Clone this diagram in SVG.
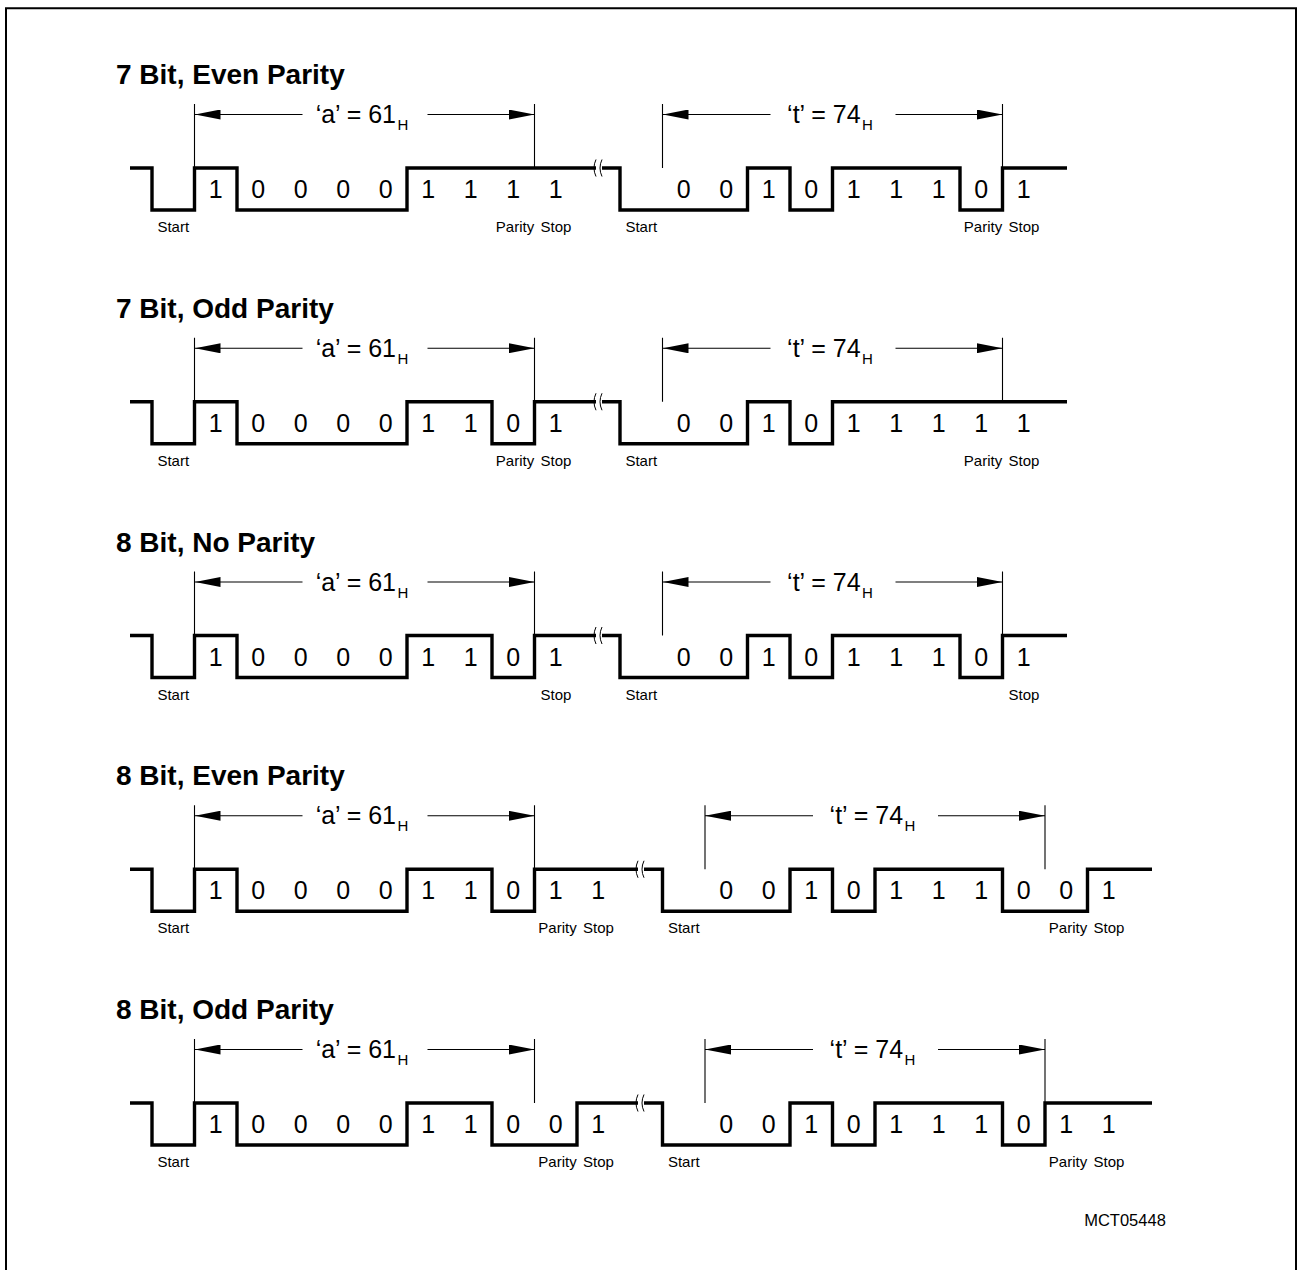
<svg xmlns="http://www.w3.org/2000/svg" width="1297" height="1270" viewBox="0 0 1297 1270">
<style>
.title{font-family:"Liberation Sans",Arial,sans-serif;font-weight:bold;font-size:28px;fill:#000}
.dig{font-family:"Liberation Sans",Arial,sans-serif;font-size:25px;fill:#000;text-anchor:middle}
.dim{font-family:"Liberation Sans",Arial,sans-serif;font-size:25px;fill:#000;text-anchor:middle}
.sub{font-size:15px}
.lbl{font-family:"Liberation Sans",Arial,sans-serif;font-size:15px;fill:#000;text-anchor:middle}
.wave{fill:none;stroke:#000;stroke-width:3.4;stroke-linejoin:miter}
.thin{fill:none;stroke:#000;stroke-width:1.1}
.arr{fill:none;stroke:#000;stroke-width:1.1;marker-start:url(#ah)}
.arrR{fill:none;stroke:#000;stroke-width:1.1;marker-end:url(#ah)}
.brk{fill:none;stroke:#000;stroke-width:1}
</style>
<defs>
<marker id="ah" viewBox="0 0 26 10" refX="26" refY="5" markerWidth="26" markerHeight="10" markerUnits="userSpaceOnUse" orient="auto-start-reverse">
<path d="M0,0 L26,5 L0,10 Z" fill="#000"/>
</marker>
<g id="brkmark">
<rect x="-3" y="-3" width="6" height="6" fill="#fff"/>
<path class="brk" d="M-3,-8.5 q-4,8.5 0,17 M3,-8.5 q-4,8.5 0,17"/>
</g>
</defs>
<rect width="1297" height="1270" fill="#fff"/>
<path d="M6,1275 V8.3 H1296 V1275" fill="none" stroke="#000" stroke-width="2"/>

<g id="connectors">
<g transform="translate(0,0)">
<path class="thin" d="M194.5,104 V168 M534.5,104 V168 M662.5,104 V168 M1002.5,104 V168"/>
<line class="arr" x1="194.5" y1="114.5" x2="302.5" y2="114.5"/>
<line class="arrR" x1="427.5" y1="114.5" x2="534.5" y2="114.5"/>
<line class="arr" x1="662.5" y1="114.5" x2="770.5" y2="114.5"/>
<line class="arrR" x1="895.5" y1="114.5" x2="1002.5" y2="114.5"/>
</g>
<g transform="translate(0,233.75)">
<path class="thin" d="M194.5,104 V168 M534.5,104 V168 M662.5,104 V168 M1002.5,104 V168"/>
<line class="arr" x1="194.5" y1="114.5" x2="302.5" y2="114.5"/>
<line class="arrR" x1="427.5" y1="114.5" x2="534.5" y2="114.5"/>
<line class="arr" x1="662.5" y1="114.5" x2="770.5" y2="114.5"/>
<line class="arrR" x1="895.5" y1="114.5" x2="1002.5" y2="114.5"/>
</g>
<g transform="translate(0,467.5)">
<path class="thin" d="M194.5,104 V168 M534.5,104 V168 M662.5,104 V168 M1002.5,104 V168"/>
<line class="arr" x1="194.5" y1="114.5" x2="302.5" y2="114.5"/>
<line class="arrR" x1="427.5" y1="114.5" x2="534.5" y2="114.5"/>
<line class="arr" x1="662.5" y1="114.5" x2="770.5" y2="114.5"/>
<line class="arrR" x1="895.5" y1="114.5" x2="1002.5" y2="114.5"/>
</g>
<g transform="translate(0,701.25)">
<path class="thin" d="M194.5,104 V168 M534.5,104 V168 M705,104 V168 M1045,104 V168"/>
<line class="arr" x1="194.5" y1="114.5" x2="302.5" y2="114.5"/>
<line class="arrR" x1="427.5" y1="114.5" x2="534.5" y2="114.5"/>
<line class="arr" x1="705" y1="114.5" x2="813" y2="114.5"/>
<line class="arrR" x1="938" y1="114.5" x2="1045" y2="114.5"/>
</g>
<g transform="translate(0,935)">
<path class="thin" d="M194.5,104 V168 M534.5,104 V168 M705,104 V168 M1045,104 V168"/>
<line class="arr" x1="194.5" y1="114.5" x2="302.5" y2="114.5"/>
<line class="arrR" x1="427.5" y1="114.5" x2="534.5" y2="114.5"/>
<line class="arr" x1="705" y1="114.5" x2="813" y2="114.5"/>
<line class="arrR" x1="938" y1="114.5" x2="1045" y2="114.5"/>
</g>
</g>

<g id="row1" transform="translate(0,0)">
<text class="title" x="116" y="84">7 Bit, Even Parity</text>
<text class="dim" x="362" y="123">‘a’ = 61<tspan class="sub" dx="1.5" dy="7">H</tspan></text>
<text class="dim" x="830" y="123">‘t’ = 74<tspan class="sub" dx="1.5" dy="7">H</tspan></text>
<path class="wave" d="M130,168 H152 V210 H194.5 V168 H237 V210 H407 V168 H620 V210 H747.5 V168 H790 V210 H832.5 V168 H960 V210 H1002.5 V168 H1067"/>
<use href="#brkmark" x="599" y="168"/>
<text class="dig" x="215.75" y="198">1</text><text class="dig" x="258.25" y="198">0</text><text class="dig" x="300.75" y="198">0</text><text class="dig" x="343.25" y="198">0</text><text class="dig" x="385.75" y="198">0</text><text class="dig" x="428.25" y="198">1</text><text class="dig" x="470.75" y="198">1</text><text class="dig" x="513.25" y="198">1</text><text class="dig" x="555.75" y="198">1</text>
<text class="dig" x="683.75" y="198">0</text><text class="dig" x="726.25" y="198">0</text><text class="dig" x="768.75" y="198">1</text><text class="dig" x="811.25" y="198">0</text><text class="dig" x="853.75" y="198">1</text><text class="dig" x="896.25" y="198">1</text><text class="dig" x="938.75" y="198">1</text><text class="dig" x="981.25" y="198">0</text><text class="dig" x="1023.75" y="198">1</text>
<text class="lbl" x="173.25" y="232">Start</text><text class="lbl" x="515" y="232">Parity</text><text class="lbl" x="556" y="232">Stop</text>
<text class="lbl" x="641.25" y="232">Start</text><text class="lbl" x="983" y="232">Parity</text><text class="lbl" x="1024" y="232">Stop</text>
</g>

<g id="row2" transform="translate(0,233.75)">
<text class="title" x="116" y="84">7 Bit, Odd Parity</text>
<text class="dim" x="362" y="123">‘a’ = 61<tspan class="sub" dx="1.5" dy="7">H</tspan></text>
<text class="dim" x="830" y="123">‘t’ = 74<tspan class="sub" dx="1.5" dy="7">H</tspan></text>
<path class="wave" d="M130,168 H152 V210 H194.5 V168 H237 V210 H407 V168 H492 V210 H534.5 V168 H620 V210 H747.5 V168 H790 V210 H832.5 V168 H1067"/>
<use href="#brkmark" x="599" y="168"/>
<text class="dig" x="215.75" y="198">1</text><text class="dig" x="258.25" y="198">0</text><text class="dig" x="300.75" y="198">0</text><text class="dig" x="343.25" y="198">0</text><text class="dig" x="385.75" y="198">0</text><text class="dig" x="428.25" y="198">1</text><text class="dig" x="470.75" y="198">1</text><text class="dig" x="513.25" y="198">0</text><text class="dig" x="555.75" y="198">1</text>
<text class="dig" x="683.75" y="198">0</text><text class="dig" x="726.25" y="198">0</text><text class="dig" x="768.75" y="198">1</text><text class="dig" x="811.25" y="198">0</text><text class="dig" x="853.75" y="198">1</text><text class="dig" x="896.25" y="198">1</text><text class="dig" x="938.75" y="198">1</text><text class="dig" x="981.25" y="198">1</text><text class="dig" x="1023.75" y="198">1</text>
<text class="lbl" x="173.25" y="232">Start</text><text class="lbl" x="515" y="232">Parity</text><text class="lbl" x="556" y="232">Stop</text>
<text class="lbl" x="641.25" y="232">Start</text><text class="lbl" x="983" y="232">Parity</text><text class="lbl" x="1024" y="232">Stop</text>
</g>

<g id="row3" transform="translate(0,467.5)">
<text class="title" x="116" y="84">8 Bit, No Parity</text>
<text class="dim" x="362" y="123">‘a’ = 61<tspan class="sub" dx="1.5" dy="7">H</tspan></text>
<text class="dim" x="830" y="123">‘t’ = 74<tspan class="sub" dx="1.5" dy="7">H</tspan></text>
<path class="wave" d="M130,168 H152 V210 H194.5 V168 H237 V210 H407 V168 H492 V210 H534.5 V168 H620 V210 H747.5 V168 H790 V210 H832.5 V168 H960 V210 H1002.5 V168 H1067"/>
<use href="#brkmark" x="599" y="168"/>
<text class="dig" x="215.75" y="198">1</text><text class="dig" x="258.25" y="198">0</text><text class="dig" x="300.75" y="198">0</text><text class="dig" x="343.25" y="198">0</text><text class="dig" x="385.75" y="198">0</text><text class="dig" x="428.25" y="198">1</text><text class="dig" x="470.75" y="198">1</text><text class="dig" x="513.25" y="198">0</text><text class="dig" x="555.75" y="198">1</text>
<text class="dig" x="683.75" y="198">0</text><text class="dig" x="726.25" y="198">0</text><text class="dig" x="768.75" y="198">1</text><text class="dig" x="811.25" y="198">0</text><text class="dig" x="853.75" y="198">1</text><text class="dig" x="896.25" y="198">1</text><text class="dig" x="938.75" y="198">1</text><text class="dig" x="981.25" y="198">0</text><text class="dig" x="1023.75" y="198">1</text>
<text class="lbl" x="173.25" y="232">Start</text><text class="lbl" x="556" y="232">Stop</text>
<text class="lbl" x="641.25" y="232">Start</text><text class="lbl" x="1024" y="232">Stop</text>
</g>

<g id="row4" transform="translate(0,701.25)">
<text class="title" x="116" y="84">8 Bit, Even Parity</text>
<text class="dim" x="362" y="123">‘a’ = 61<tspan class="sub" dx="1.5" dy="7">H</tspan></text>
<text class="dim" x="872.5" y="123">‘t’ = 74<tspan class="sub" dx="1.5" dy="7">H</tspan></text>
<path class="wave" d="M130,168 H152 V210 H194.5 V168 H237 V210 H407 V168 H492 V210 H534.5 V168 H662.5 V210 H790 V168 H832.5 V210 H875 V168 H1002.5 V210 H1087.5 V168 H1152"/>
<use href="#brkmark" x="641" y="168"/>
<text class="dig" x="215.75" y="198">1</text><text class="dig" x="258.25" y="198">0</text><text class="dig" x="300.75" y="198">0</text><text class="dig" x="343.25" y="198">0</text><text class="dig" x="385.75" y="198">0</text><text class="dig" x="428.25" y="198">1</text><text class="dig" x="470.75" y="198">1</text><text class="dig" x="513.25" y="198">0</text><text class="dig" x="555.75" y="198">1</text><text class="dig" x="598.25" y="198">1</text>
<text class="dig" x="726.25" y="198">0</text><text class="dig" x="768.75" y="198">0</text><text class="dig" x="811.25" y="198">1</text><text class="dig" x="853.75" y="198">0</text><text class="dig" x="896.25" y="198">1</text><text class="dig" x="938.75" y="198">1</text><text class="dig" x="981.25" y="198">1</text><text class="dig" x="1023.75" y="198">0</text><text class="dig" x="1066.25" y="198">0</text><text class="dig" x="1108.75" y="198">1</text>
<text class="lbl" x="173.25" y="232">Start</text><text class="lbl" x="557.5" y="232">Parity</text><text class="lbl" x="598.5" y="232">Stop</text>
<text class="lbl" x="683.75" y="232">Start</text><text class="lbl" x="1068" y="232">Parity</text><text class="lbl" x="1109" y="232">Stop</text>
</g>

<g id="row5" transform="translate(0,935)">
<text class="title" x="116" y="84">8 Bit, Odd Parity</text>
<text class="dim" x="362" y="123">‘a’ = 61<tspan class="sub" dx="1.5" dy="7">H</tspan></text>
<text class="dim" x="872.5" y="123">‘t’ = 74<tspan class="sub" dx="1.5" dy="7">H</tspan></text>
<path class="wave" d="M130,168 H152 V210 H194.5 V168 H237 V210 H407 V168 H492 V210 H577 V168 H662.5 V210 H790 V168 H832.5 V210 H875 V168 H1002.5 V210 H1045 V168 H1152"/>
<use href="#brkmark" x="641" y="168"/>
<text class="dig" x="215.75" y="198">1</text><text class="dig" x="258.25" y="198">0</text><text class="dig" x="300.75" y="198">0</text><text class="dig" x="343.25" y="198">0</text><text class="dig" x="385.75" y="198">0</text><text class="dig" x="428.25" y="198">1</text><text class="dig" x="470.75" y="198">1</text><text class="dig" x="513.25" y="198">0</text><text class="dig" x="555.75" y="198">0</text><text class="dig" x="598.25" y="198">1</text>
<text class="dig" x="726.25" y="198">0</text><text class="dig" x="768.75" y="198">0</text><text class="dig" x="811.25" y="198">1</text><text class="dig" x="853.75" y="198">0</text><text class="dig" x="896.25" y="198">1</text><text class="dig" x="938.75" y="198">1</text><text class="dig" x="981.25" y="198">1</text><text class="dig" x="1023.75" y="198">0</text><text class="dig" x="1066.25" y="198">1</text><text class="dig" x="1108.75" y="198">1</text>
<text class="lbl" x="173.25" y="232">Start</text><text class="lbl" x="557.5" y="232">Parity</text><text class="lbl" x="598.5" y="232">Stop</text>
<text class="lbl" x="683.75" y="232">Start</text><text class="lbl" x="1068" y="232">Parity</text><text class="lbl" x="1109" y="232">Stop</text>
</g>

<g id="figid">
<text class="lbl" x="1125" y="1226" style="font-size:16.5px">MCT05448</text>
</g>
</svg>
